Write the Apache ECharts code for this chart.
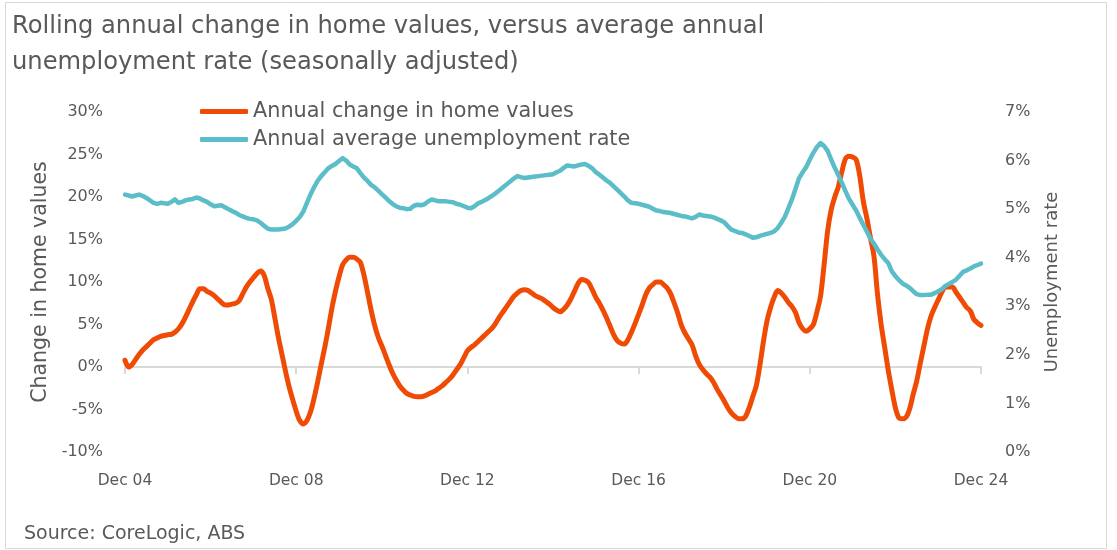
<!DOCTYPE html>
<html>
<head>
<meta charset="utf-8">
<script src="https://cdn.jsdelivr.net/npm/echarts@6/dist/echarts.min.js"></script>
<style>
html,body{margin:0;padding:0;background:#fff;}
#chart{width:1117px;height:550px;}
</style>
</head>
<body>
<div id="chart"></div>
<script>
// Monthly categories Dec 2004 .. Dec 2024
const monthNames = ['Jan','Feb','Mar','Apr','May','Jun','Jul','Aug','Sep','Oct','Nov','Dec'];
const categories = [];
for (let i = 0; i <= 240; i++) {
  const mi = (11 + i) % 12;
  const yr = 2004 + Math.floor((11 + i) / 12);
  categories.push(monthNames[mi] + ' ' + String(yr % 100).padStart(2, '0'));
}

const seriesNames = ['Annual change in home values', 'Annual average unemployment rate'];

// Annual change in home values (%), monthly, Dec 04 .. Dec 24
const homeValues = [
  0.8, 0.0, 0.3, 0.9, 1.5, 2.0, 2.4, 2.8, 3.2, 3.4, 3.6, 3.7,
  3.8, 3.85, 4.1, 4.5, 5.1, 5.9, 6.8, 7.7, 8.5, 9.2, 9.2, 8.9,
  8.7, 8.4, 8.0, 7.6, 7.3, 7.3, 7.4, 7.5, 7.8, 8.6, 9.4, 10.0,
  10.5, 11.0, 11.3, 10.8, 9.3, 8.0, 5.8, 3.5, 1.5, -0.5, -2.3, -3.8,
  -5.2, -6.3, -6.7, -6.3, -5.3, -3.7, -1.8, 0.3, 2.3, 4.5, 6.9, 8.9,
  10.6, 12.0, 12.6, 12.9, 12.9, 12.7, 12.3, 10.8, 8.8, 6.7, 4.9, 3.5,
  2.5, 1.4, 0.3, -0.7, -1.5, -2.2, -2.7, -3.1, -3.3, -3.45, -3.5, -3.5,
  -3.4, -3.2, -3.0, -2.8, -2.5, -2.2, -1.8, -1.4, -0.9, -0.3, 0.3, 1.1,
  1.9, 2.3, 2.6, 3.0, 3.4, 3.8, 4.2, 4.6, 5.2, 5.9, 6.5, 7.1,
  7.7, 8.3, 8.7, 9.0, 9.1, 9.0, 8.7, 8.4, 8.2, 8.0, 7.7, 7.4,
  7.0, 6.7, 6.5, 6.8, 7.3, 8.0, 8.9, 9.8, 10.3, 10.2, 9.9, 9.1,
  8.2, 7.5, 6.7, 5.8, 4.8, 3.8, 3.1, 2.8, 2.7, 3.2, 4.1, 5.1,
  6.2, 7.3, 8.5, 9.3, 9.7, 10.0, 10.0, 9.7, 9.3, 8.6, 7.5, 6.3,
  4.9, 4.0, 3.3, 2.6, 1.3, 0.3, -0.3, -0.8, -1.2, -1.8, -2.6, -3.3,
  -4.0, -4.8, -5.4, -5.8, -6.1, -6.1, -5.8, -4.8, -3.5, -2.2, 0.2, 3.0,
  5.4, 7.0, 8.2, 9.0, 8.7, 8.2, 7.6, 7.1, 6.4, 5.2, 4.5, 4.2,
  4.5, 5.0, 6.5, 8.3, 12.0, 16.0, 18.5, 20.0, 21.2, 23.0, 24.5, 24.8,
  24.7, 24.4, 22.5, 19.5, 17.5, 15.2, 13.0, 8.5, 5.0, 2.3, -0.4, -2.7,
  -4.8, -6.0, -6.1, -5.9, -4.9, -3.2, -1.6, 0.5, 2.5, 4.5, 6.0, 7.0,
  7.9, 8.8, 9.4, 9.4, 9.4, 8.8, 8.2, 7.6, 7.0, 6.6, 5.6, 5.2,
  4.9
];

// Annual average unemployment rate (%), monthly, Dec 04 .. Dec 24
const unemployment = [
  5.30, 5.28, 5.26, 5.28, 5.30, 5.27, 5.23, 5.18, 5.13, 5.11, 5.13, 5.12,
  5.11, 5.15, 5.20, 5.13, 5.15, 5.18, 5.20, 5.21, 5.24, 5.22, 5.18, 5.15,
  5.10, 5.06, 5.07, 5.08, 5.04, 5.00, 4.96, 4.93, 4.88, 4.85, 4.82, 4.80,
  4.79, 4.77, 4.72, 4.66, 4.60, 4.58, 4.58, 4.58, 4.59, 4.60, 4.64, 4.69,
  4.76, 4.84, 4.95, 5.13, 5.30, 5.45, 5.58, 5.68, 5.76, 5.84, 5.89, 5.93,
  5.99, 6.05, 6.00, 5.92, 5.88, 5.84, 5.74, 5.65, 5.58, 5.50, 5.45, 5.38,
  5.31, 5.24, 5.17, 5.11, 5.06, 5.03, 5.02, 5.00, 5.01, 5.07, 5.09, 5.08,
  5.10, 5.16, 5.20, 5.18, 5.16, 5.16, 5.16, 5.15, 5.14, 5.11, 5.09, 5.06,
  5.03, 5.02, 5.06, 5.12, 5.15, 5.19, 5.23, 5.28, 5.33, 5.39, 5.45, 5.51,
  5.57, 5.63, 5.68, 5.66, 5.64, 5.65, 5.66, 5.67, 5.68, 5.69, 5.70, 5.71,
  5.72, 5.76, 5.79, 5.85, 5.90, 5.89, 5.88, 5.90, 5.92, 5.93, 5.89, 5.84,
  5.76, 5.71, 5.65, 5.59, 5.54, 5.47, 5.40, 5.33, 5.26, 5.18, 5.13, 5.12,
  5.11, 5.09, 5.07, 5.05, 5.01, 4.97, 4.96, 4.94, 4.93, 4.92, 4.90, 4.88,
  4.86, 4.85, 4.83, 4.81, 4.84, 4.89, 4.87, 4.86, 4.85, 4.83, 4.80, 4.77,
  4.73, 4.65, 4.58, 4.55, 4.52, 4.51, 4.48, 4.45, 4.41, 4.42, 4.45, 4.47,
  4.49, 4.51, 4.54, 4.61, 4.72, 4.84, 5.02, 5.20, 5.42, 5.64, 5.76, 5.87,
  6.02, 6.16, 6.28, 6.36, 6.30, 6.20, 6.02, 5.85, 5.70, 5.54, 5.37, 5.21,
  5.09, 4.97, 4.82, 4.68, 4.54, 4.39, 4.29, 4.17, 4.06, 3.97, 3.89, 3.72,
  3.62, 3.54, 3.47, 3.43, 3.38, 3.31, 3.25, 3.23, 3.23, 3.24, 3.24, 3.27,
  3.31, 3.35, 3.42, 3.46, 3.50, 3.55, 3.63, 3.71, 3.74, 3.78, 3.82, 3.85,
  3.88
];

const leftTicks = { min: -10, max: 30, interval: 5 };
const rightTicks = { min: 0, max: 7, interval: 1 };

const FONT = 'DejaVu Sans';
const GREY = '#595959';
const ORANGE = '#F04B05';
const TEAL = '#5BBDC8';

const chart = echarts.init(document.getElementById('chart'), null, { renderer: 'canvas' });
chart.setOption({
  backgroundColor: '#ffffff',
  animation: false,
  textStyle: { fontFamily: FONT },
  title: {
    text: 'Rolling annual change in home values, versus average annual\nunemployment rate (seasonally adjusted)',
    left: 7, top: 4,
    textStyle: { fontFamily: FONT, fontSize: 24.2, fontWeight: 'normal', color: GREY, lineHeight: 36 }
  },
  graphic: [
    { type: 'rect', shape: { x: 5.5, y: 2.5, width: 1101, height: 546 },
      style: { fill: 'none', stroke: '#D9D9D9', lineWidth: 1 }, silent: true },
    { type: 'text', left: 24, top: 525,
      style: { text: 'Source: CoreLogic, ABS', font: '19px "DejaVu Sans"', fill: GREY } }
  ],
  legend: {
    data: seriesNames,
    orient: 'vertical',
    left: 200, top: 101,
    padding: 0,
    itemGap: 7,
    itemWidth: 48, itemHeight: 5,
    icon: 'roundRect',
    textStyle: { fontFamily: FONT, fontSize: 20.8, color: GREY }
  },
  grid: { left: 125, right: 136, top: 112, bottom: 98, containLabel: false },
  xAxis: [
    {
      type: 'category', data: categories, boundaryGap: false, position: 'bottom',
      axisLine: { show: false, onZero: false }, axisTick: { show: false },
      axisLabel: { interval: 47, margin: 21, fontSize: 15.5, color: GREY, fontFamily: FONT },
      splitLine: { show: false }
    },
    {
      type: 'category', data: categories, boundaryGap: false, position: 'bottom',
      axisLine: { show: true, onZero: true, onZeroAxisIndex: 0, lineStyle: { color: '#D9D9D9', width: 2 } },
      axisTick: { show: true, interval: 47, length: 7, lineStyle: { color: '#D9D9D9', width: 2 } },
      axisLabel: { show: false }, splitLine: { show: false }
    }
  ],
  yAxis: [
    {
      type: 'value', position: 'left', min: leftTicks.min, max: leftTicks.max, interval: leftTicks.interval,
      axisLine: { show: false }, axisTick: { show: false }, splitLine: { show: false },
      axisLabel: { formatter: '{value}%', fontSize: 16, color: GREY, margin: 22, fontFamily: FONT },
      name: 'Change in home values', nameLocation: 'middle', nameGap: 73,
      nameTextStyle: { fontSize: 20.5, color: GREY, fontFamily: FONT }
    },
    {
      type: 'value', position: 'right', min: rightTicks.min, max: rightTicks.max, interval: rightTicks.interval,
      axisLine: { show: false }, axisTick: { show: false }, splitLine: { show: false },
      axisLabel: { formatter: '{value}%', fontSize: 16, color: GREY, margin: 24, fontFamily: FONT },
      name: 'Unemployment rate', nameLocation: 'middle', nameGap: 62,
      nameTextStyle: { fontSize: 18, color: GREY, fontFamily: FONT }
    }
  ],
  series: [
    {
      name: seriesNames[0], type: 'line', xAxisIndex: 0, yAxisIndex: 0,
      data: homeValues, showSymbol: false, symbol: 'none', smooth: 0.3,
      lineStyle: { color: ORANGE, width: 5, cap: 'round', join: 'round' },
      itemStyle: { color: ORANGE }
    },
    {
      name: seriesNames[1], type: 'line', xAxisIndex: 0, yAxisIndex: 1,
      data: unemployment, showSymbol: false, symbol: 'none',
      lineStyle: { color: TEAL, width: 4.5, cap: 'round', join: 'round' },
      itemStyle: { color: TEAL }
    }
  ]
});
</script>
</body>
</html>
